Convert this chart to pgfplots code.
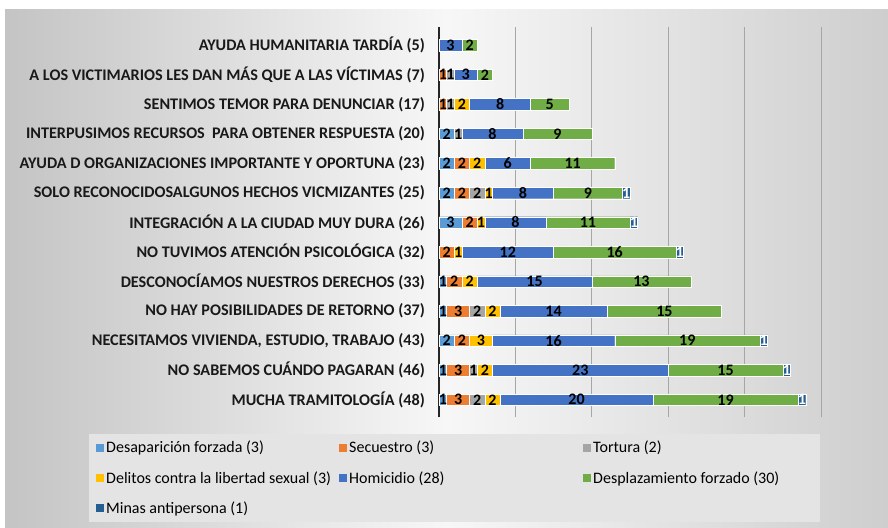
\documentclass[border=0pt]{standalone}
\usepackage{pgfplots}
\pgfplotsset{compat=1.18}
\usepackage{pgfplotstable}
\usepackage{fontspec}
\setmainfont{Carlito}
\definecolor{clb}{HTML}{5B9BD5}
\definecolor{cor}{HTML}{ED7D31}
\definecolor{cgr}{HTML}{A5A5A5}
\definecolor{cye}{HTML}{FFC000}
\definecolor{chb}{HTML}{4472C4}
\definecolor{cgn}{HTML}{70AD47}
\definecolor{cmi}{HTML}{255E91}
\definecolor{bgl}{HTML}{C4C4C4}
\definecolor{bgm}{HTML}{F7F7F7}
\definecolor{bgr}{HTML}{CECECE}
\definecolor{legbg}{HTML}{E4E4E4}
\definecolor{gridc}{HTML}{A6A6A6}

\pgfplotstableread{
y lb or gr ye hb gn mi
0 1 3 2 2 20 19 1
1 1 3 1 2 23 15 1
2 2 2 0 3 16 19 1
3 1 3 2 2 14 15 0
4 1 2 0 2 15 13 0
5 0 2 0 1 12 16 1
6 3 2 0 1 8 11 1
7 2 2 2 1 8 9 1
8 2 2 0 2 6 11 0
9 2 0 1 0 8 9 0
10 0 1 1 2 8 5 0
11 0 1 1 0 3 2 0
12 0 0 0 0 3 2 0
}\data

\begin{document}
\begin{tikzpicture}[x=1pt,y=1pt]
\useasboundingbox (0,0) rectangle (888,527);
\fill[white] (0,0) rectangle (888,527);
\shade[left color=bgl, right color=bgr, middle color=bgm] (5,0) rectangle (888,517);
\begin{axis}[
  at={(439pt,109.5pt)}, anchor=south west,
  scale only axis, width=382pt, height=390pt,
  xbar stacked, bar width=11.5pt,
  xmin=0, xmax=50, ymin=-0.6, ymax=12.6,
  axis line style={draw=none},
  xtick={10,20,30,40,50}, xticklabels={},
  extra x ticks={0}, extra x tick labels={},
  extra x tick style={grid style={black!85, line width=1.6pt}},
  xmajorgrids, grid style={gridc, line width=0.9pt},
  major tick length=0pt,
  ytick={0,...,12},
  yticklabels={
    MUCHA TRAMITOLOGÍA (48),
    NO SABEMOS CUÁNDO PAGARAN (46),
    {NECESITAMOS VIVIENDA, ESTUDIO, TRABAJO (43)},
    NO HAY POSIBILIDADES DE RETORNO (37),
    DESCONOCÍAMOS NUESTROS DERECHOS (33),
    NO TUVIMOS ATENCIÓN PSICOLÓGICA (32),
    INTEGRACIÓN A LA CIUDAD MUY DURA (26),
    SOLO RECONOCIDOSALGUNOS HECHOS VICMIZANTES (25),
    AYUDA D ORGANIZACIONES IMPORTANTE Y OPORTUNA (23),
    INTERPUSIMOS RECURSOS\ \ PARA OBTENER RESPUESTA (20),
    SENTIMOS TEMOR PARA DENUNCIAR (17),
    A LOS VICTIMARIOS LES DAN MÁS QUE A LAS VÍCTIMAS (7),
    AYUDA HUMANITARIA TARDÍA (5)},
  yticklabel style={font=\bfseries\fontsize{16.2}{17}\selectfont, inner sep=0pt, xshift=-14pt, text=black!90},
  every axis plot/.append style={draw=white, line width=0.4pt},
  /pgf/number format/assume math mode=true,
  visualization depends on={rawx \as \rawx},
  nodes near coords={\ifdim\rawx pt>0pt \pgfmathprintnumber{\rawx}\fi},
  every node near coord/.append style={anchor=center, inner sep=0pt,
    font=\bfseries\fontsize{16}{17}\selectfont, text=black},
  legend columns=3,
  legend style={at={(-0.9162,-0.0423)}, anchor=north west, fill=legbg, draw=none,
    font=\fontsize{16}{18}\selectfont, inner xsep=7pt, inner ysep=5pt,
    row sep=13pt, cells={anchor=west}},
  legend image code/.code={\fill[#1, draw=none] (0pt,-4pt) rectangle (8pt,4pt);},
]
\addplot[fill=clb] table[x=lb, y=y] {\data};
\addlegendentry{\makebox[231pt][l]{Desaparición forzada (3)}}
\addplot[fill=cor] table[x=or, y=y] {\data};
\addlegendentry{\makebox[232pt][l]{Secuestro (3)}}
\addplot[fill=cgr] table[x=gr, y=y] {\data};
\addlegendentry{\makebox[218pt][l]{Tortura (2)}}
\addplot[fill=cye] table[x=ye, y=y] {\data};
\addlegendentry{\makebox[231pt][l]{Delitos contra la libertad sexual (3)}}
\addplot[fill=chb] table[x=hb, y=y] {\data};
\addlegendentry{\makebox[232pt][l]{Homicidio (28)}}
\addplot[fill=cgn] table[x=gn, y=y] {\data};
\addlegendentry{\makebox[218pt][l]{Desplazamiento forzado (30)}}
\addplot[fill=cmi, every node near coord/.append style={text=white}] table[x=mi, y=y] {\data};
\addlegendentry{\makebox[231pt][l]{Minas antipersona (1)}}
\end{axis}
\end{tikzpicture}
\end{document}
